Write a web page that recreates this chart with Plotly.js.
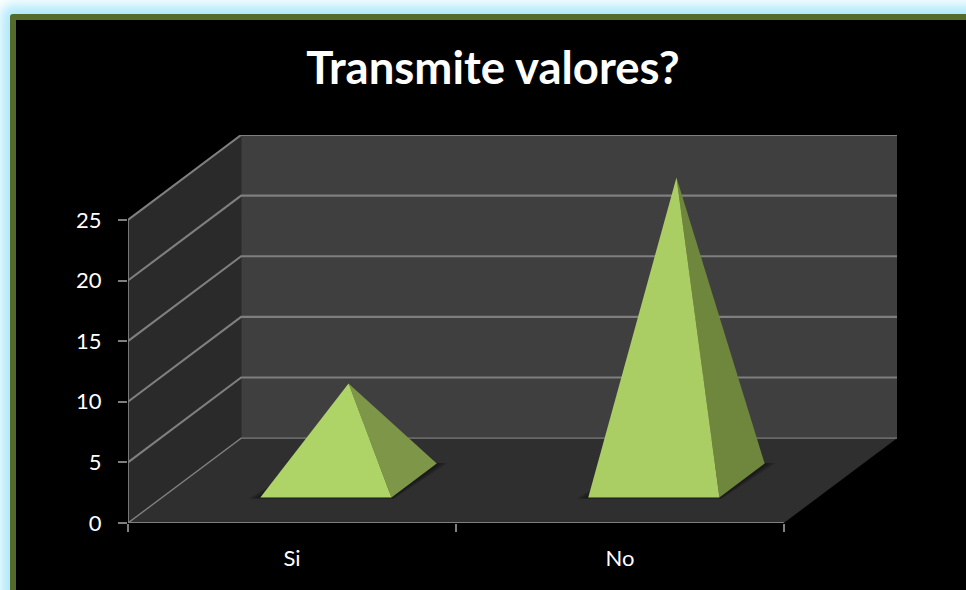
<!DOCTYPE html>
<html>
<head>
<meta charset="utf-8">
<script src="https://cdn.plot.ly/plotly-3.0.1.min.js"></script>
<style>
html,body{margin:0;padding:0;width:966px;height:590px;overflow:hidden;background:#fff;}
#frame{position:absolute;left:10px;top:14px;width:1000px;height:640px;box-sizing:border-box;background:#000;border:6px solid #556b2c;border-radius:3px;box-shadow:0 0 13px 9px #aee9fb;}
#chart{position:absolute;left:0;top:0;width:966px;height:590px;}
</style>
</head>
<body>
<div id="frame"></div>
<div id="chart"></div>
<script>
const titleText = 'Transmite valores?';
const categories = ['Si', 'No'];
const values = [8, 25];
const yTicks = [0, 5, 10, 15, 20, 25];
const frontColors = ['#aed468', '#aacd64'];
const sideColors = ['#7d9648', '#6e873c'];

// Oblique projection of the 3D box, expressed in axis units
const depthX = 0.345;
const depthY = 7;
const n = categories.length;
const yMax = yTicks[yTicks.length - 1];
const halfBase = 0.2;
const nearDepth = 0.3;
const farDepth = 0.7;
const gridColor = '#7f7f7f';

const px = (x, d) => x + d * depthX;
const py = (y, d) => y + d * depthY;

function poly(pts, color) {
  return {
    type: 'scatter', mode: 'lines', cliponaxis: false, hoverinfo: 'skip', showlegend: false,
    x: pts.map(p => px(p[0], p[2])), y: pts.map(p => py(p[1], p[2])),
    fill: 'toself', fillcolor: color, line: {width: 0, color: color}
  };
}
function seg(pts, color, width) {
  return {
    type: 'scatter', mode: 'lines', cliponaxis: false, hoverinfo: 'skip', showlegend: false,
    x: pts.map(p => px(p[0], p[2])), y: pts.map(p => py(p[1], p[2])),
    line: {width: width, color: color}
  };
}

const traces = [];
// walls and floor
traces.push(poly([[0,0,1],[n,0,1],[n,yMax,1],[0,yMax,1],[0,0,1]], '#3f3f3f'));
traces.push(poly([[0,0,0],[0,0,1],[0,yMax,1],[0,yMax,0],[0,0,0]], '#2a2a2a'));
traces.push(poly([[0,0,0],[n,0,0],[n,0,1],[0,0,1],[0,0,0]], '#2f2f2f'));
// gridlines on both walls
yTicks.forEach(v => {
  traces.push(seg([[0,v,0],[0,v,1],[n,v,1]], gridColor, v === 0 ? 1.4 : 2.1));
});
// axis lines
traces.push(seg([[0,0,0],[0,yMax,0]], gridColor, 1.8));
traces.push(seg([[0,0,0],[n,0,0]], gridColor, 2.1));

// pyramids
categories.forEach((c, i) => {
  const cx = i + 0.5, xl = cx - halfBase, xr = cx + halfBase, md = (nearDepth + farDepth) / 2;
  [0.03, 0.02, 0.01].forEach(g => {
    traces.push(poly([[xl-g,0,nearDepth-g/2],[xr+g*0.4,0,nearDepth-g/2],[xr+g,0,farDepth+g/4],[xl,0,farDepth],[xl-g,0,nearDepth-g/2]], 'rgba(0,0,0,0.18)'));
  });
  const apex = [cx, values[i], md];
  traces.push(poly([[xr,0,nearDepth],[xr,0,farDepth],apex,[xr,0,nearDepth]], sideColors[i]));
  traces.push(poly([[xl,0,nearDepth],[xr,0,nearDepth],apex,[xl,0,nearDepth]], frontColors[i]));
});

const tickFont = {family: 'Lato, sans-serif', size: 22, color: '#ffffff'};
const layout = {
  width: 966, height: 590,
  margin: {l: 128, r: 69, t: 135, b: 67},
  paper_bgcolor: 'rgba(0,0,0,0)', plot_bgcolor: 'rgba(0,0,0,0)',
  showlegend: false,
  title: {
    text: '<b>' + titleText + '</b>', x: 493 / 966, xanchor: 'center', xref: 'container',
    y: 1 - 68 / 590, yanchor: 'middle', yref: 'container',
    font: {family: 'Lato, sans-serif', size: 45.5, color: '#ffffff'}
  },
  xaxis: {
    type: 'linear', range: [0, n + depthX], showgrid: false, zeroline: false, showline: false,
    tickmode: 'array', tickvals: categories.map((c, i) => i + 0.5), ticktext: categories,
    ticks: '', tickfont: tickFont, ticklabelstandoff: 20,
    minor: {tickmode: 'array', tickvals: categories.map((c, i) => i).concat([n]), ticks: 'outside', ticklen: 8, tickwidth: 2, tickcolor: gridColor, showgrid: false}
  },
  yaxis: {
    range: [0, yMax + depthY], showgrid: false, zeroline: false, showline: false,
    tickmode: 'array', tickvals: yTicks, ticktext: yTicks.map(String),
    ticks: 'outside', ticklen: 9, tickwidth: 2, tickcolor: gridColor, tickfont: tickFont, ticklabelstandoff: 12
  }
};
Plotly.newPlot('chart', traces, layout, {displayModeBar: false, staticPlot: true});
</script>
</body>
</html>
